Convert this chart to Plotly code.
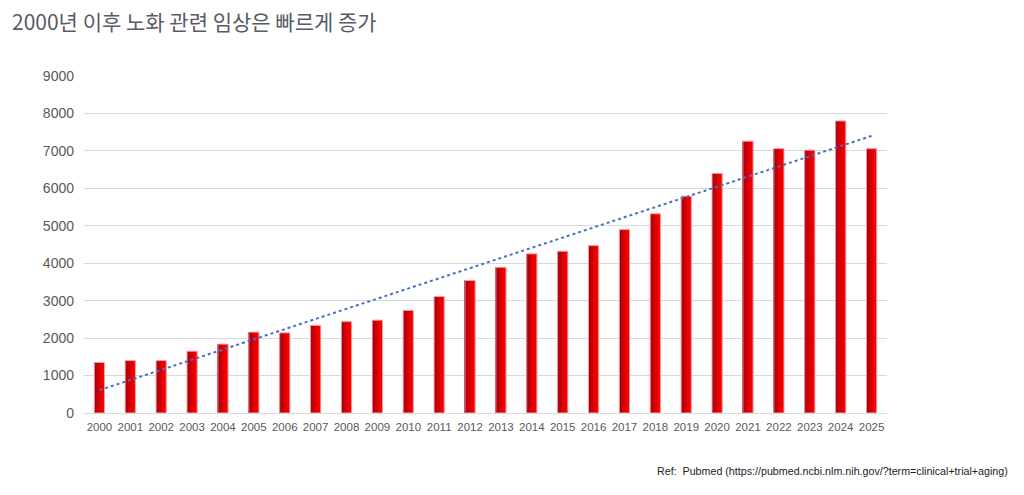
import numpy as np
import plotly.graph_objects as go

years = [str(y) for y in range(2000, 2026)]
counts = [1350, 1400, 1400, 1650, 1840, 2160, 2140, 2340, 2440, 2480,
          2740, 3110, 3540, 3890, 4250, 4320, 4470, 4900, 5320, 5790,
          6400, 7260, 7060, 7020, 7800, 7060]
y_ticks = list(range(0, 10000, 1000))
title_text = "2000년 이후 노화 관련 임상은 빠르게 증가"
ref_text = "Ref:  Pubmed (https://pubmed.ncbi.nlm.nih.gov/?term=clinical+trial+aging)"

# linear trendline fitted to the data (as a spreadsheet trendline would)
idx = np.arange(len(counts))
slope, intercept = np.polyfit(idx, counts, 1)
trend = slope * idx + intercept

fig = go.Figure()

# emulate horizontal gradient fill with narrow strips
bar_w = 0.33
strip_colors = ["#a00010", "#b8000a", "#cc0006", "#de0003", "#ec0000", "#f70000"]
n = len(strip_colors)
for i, c in enumerate(strip_colors):
    fig.add_trace(go.Bar(
        x=years, y=counts, width=bar_w / n, offset=-bar_w / 2 + i * bar_w / n,
        marker=dict(color=c, line=dict(width=0)), showlegend=False, hoverinfo="skip"))
# light outline
fig.add_trace(go.Bar(
    x=years, y=counts, width=bar_w, offset=-bar_w / 2,
    marker=dict(color="rgba(0,0,0,0)", line=dict(color="#f4a0a0", width=1)),
    showlegend=False, hoverinfo="skip"))

fig.add_trace(go.Scatter(
    x=years, y=trend, mode="lines",
    line=dict(color="#4472C4", width=2, dash="dot"), showlegend=False))

W, H = 1016, 487
L, T, R, B = 76, 68, 137, 82
fig.update_layout(
    width=W, height=H,
    margin=dict(l=L, r=R, t=T, b=B),
    paper_bgcolor="white", plot_bgcolor="white",
    barmode="overlay",
    font=dict(family="Liberation Sans, Arial, sans-serif", color="#595959", size=12),
    title=dict(text=title_text, x=4 / W, xanchor="left", y=1 - 15 / H, yanchor="middle",
               font=dict(family="Noto Sans CJK KR", size=21, color="#5a5a66")),
    xaxis=dict(type="category", showgrid=False, showline=True, linecolor="#d9d9d9",
               linewidth=1, ticks="", ticklabelstandoff=3,
               tickfont=dict(size=11.5, color="#595959")),
    yaxis=dict(range=[0, 9000], tickvals=y_ticks, showgrid=True, gridcolor="#d9d9d9",
               gridwidth=1, zeroline=False, showline=False, ticks="",
               ticklabelstandoff=9, tickfont=dict(size=14, color="#595959")),
    annotations=[dict(text=ref_text, xref="paper", yref="paper",
                      x=(1002 - L) / (W - L - R), xanchor="right",
                      y=-(463 - (H - B)) / (H - T - B), yanchor="middle", showarrow=False,
                      font=dict(family="Liberation Sans, Arial, sans-serif", size=10.7, color="#222222"))],
)

fig.write_html("out.html")
